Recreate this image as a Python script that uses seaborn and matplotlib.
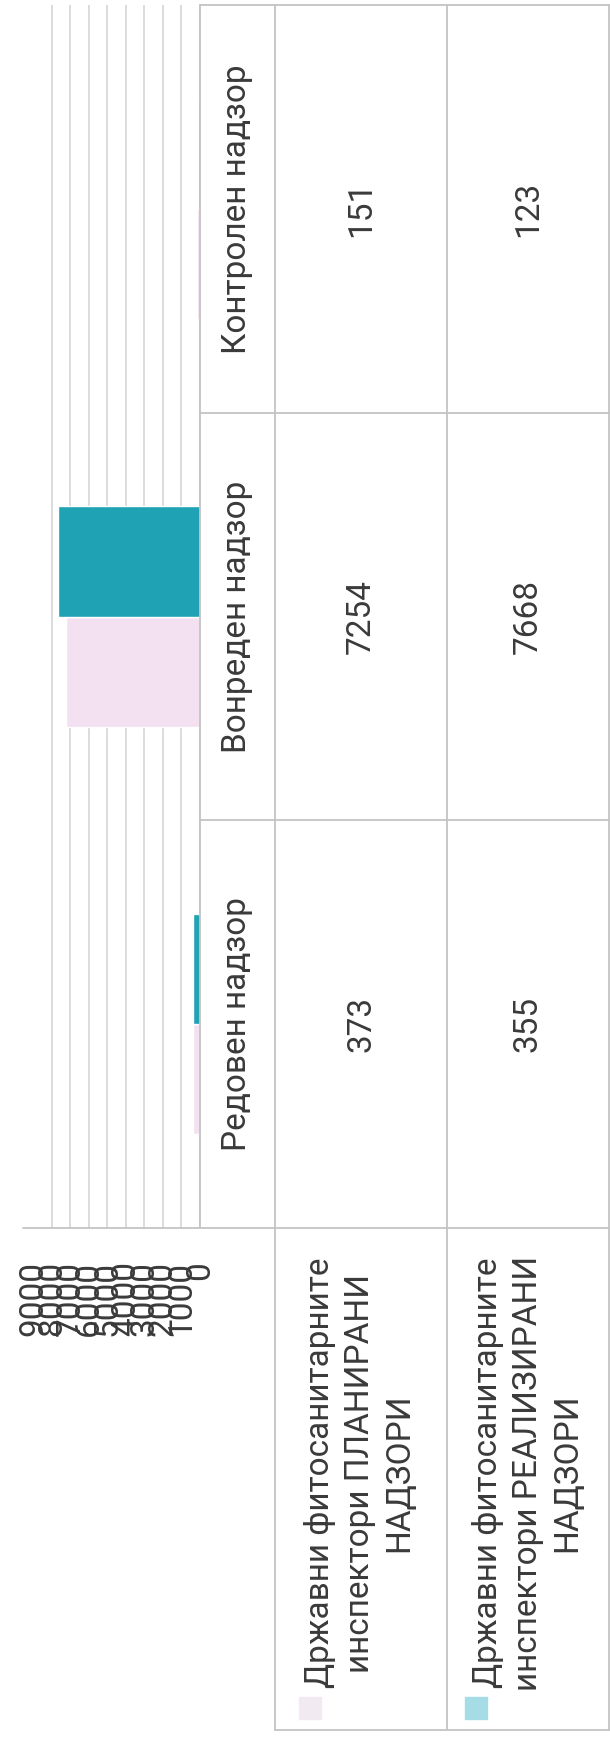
import pandas as pd
import seaborn as sns
import matplotlib.pyplot as plt
from matplotlib import transforms
from matplotlib.lines import Line2D
from matplotlib.patches import Rectangle

categories = ['Редовен надзор', 'Вонреден надзор', 'Контролен надзор']
series = ['Државни фитосанитарните\nинспектори ПЛАНИРАНИ\nНАДЗОРИ',
          'Државни фитосанитарните\nинспектори РЕАЛИЗИРАНИ\nНАДЗОРИ']
planned = [373, 7254, 151]
realized = [355, 7668, 123]
ticks = [0, 1000, 2000, 3000, 4000, 5000, 6000, 7000, 8000, 9000]

bar_colors = ['#F3E1F2', '#1FA2B4']
key_colors = ['#F1EAF0', '#A6DCE6']
text_color = '#3a3a3a'
line_color = '#c4c4c4'

df = pd.DataFrame({
    'category': categories * 2,
    'value': planned + realized,
    'series': [series[0]] * 3 + [series[1]] * 3,
})

sns.set_style('white')
plt.rcParams['font.family'] = ['Roboto', 'DejaVu Sans']

W, H = 610, 1742
fig = plt.figure(figsize=(W / 100, H / 100), dpi=100)


def fx(x):
    return x / W


def fy(y):
    return 1 - y / H


# chart is drawn turned a quarter turn: value axis runs right-to-left
ax = fig.add_axes([fx(33.5), fy(1228), fx(200) - fx(33.5), (1228 - 5) / H])
sns.barplot(data=df, y='category', x='value', hue='series', order=categories,
            hue_order=series, palette=bar_colors, width=0.54, saturation=1,
            orient='h', legend=False, ax=ax)
ax.invert_yaxis()
ax.set_xlim(ticks[-1], 0)
ax.set_xticks(ticks)
ax.set_xticklabels([str(t) for t in ticks], rotation=90, fontsize=24, color=text_color)
ax.tick_params(axis='x', length=0, pad=24)
ax.set_yticks([])
ax.set_xlabel('')
ax.set_ylabel('')
ax.grid(axis='x', color='#d6d6d6', linewidth=1.2)
ax.set_axisbelow(True)
for s in ax.spines.values():
    s.set_visible(False)

# data table (header column, one row per series)
tr = transforms.blended_transform_factory(fig.transFigure, ax.transData)
y_top, y_bot = len(categories) - 0.5, -0.5


def hline(x0, x1, y, trans):
    fig.add_artist(Line2D([fx(x0), fx(x1)], [y, y], transform=trans,
                          color=line_color, linewidth=1.3))


def vline(x, y0, y1):
    fig.add_artist(Line2D([fx(x), fx(x)], [fy(y0), fy(y1)], transform=fig.transFigure,
                          color=line_color, linewidth=1.3))


hline(23, 610, fy(1228), fig.transFigure)
hline(275, 610, fy(1730), fig.transFigure)
for b in range(len(categories)):
    hline(200, 610, b + 0.5, tr)
vline(200, 5, 1228)
vline(275, 5, 1730)
vline(447, 5, 1730)
vline(609, 5, 1730)

for i, cat in enumerate(categories):
    fig.text(fx(237), i, cat, transform=tr, rotation=90, ha='center', va='center',
             fontsize=24, color=text_color)
    fig.text(fx(361), i, str(planned[i]), transform=tr, rotation=90, ha='center',
             va='center', fontsize=24, color=text_color)
    fig.text(fx(528), i, str(realized[i]), transform=tr, rotation=90, ha='center',
             va='center', fontsize=24, color=text_color)

for x, name, kc, kx in [(360, series[0], key_colors[0], 299), (528, series[1], key_colors[1], 465)]:
    fig.text(fx(x), fy(1473), name, rotation=90, ha='center', va='center',
             multialignment='center', linespacing=1.3, fontsize=24, color=text_color)
    fig.add_artist(Rectangle((fx(kx), fy(1719)), 22 / W, 22 / H,
                             transform=fig.transFigure, color=kc))

fig.savefig('out.png', dpi=100)
plt.close(fig)
